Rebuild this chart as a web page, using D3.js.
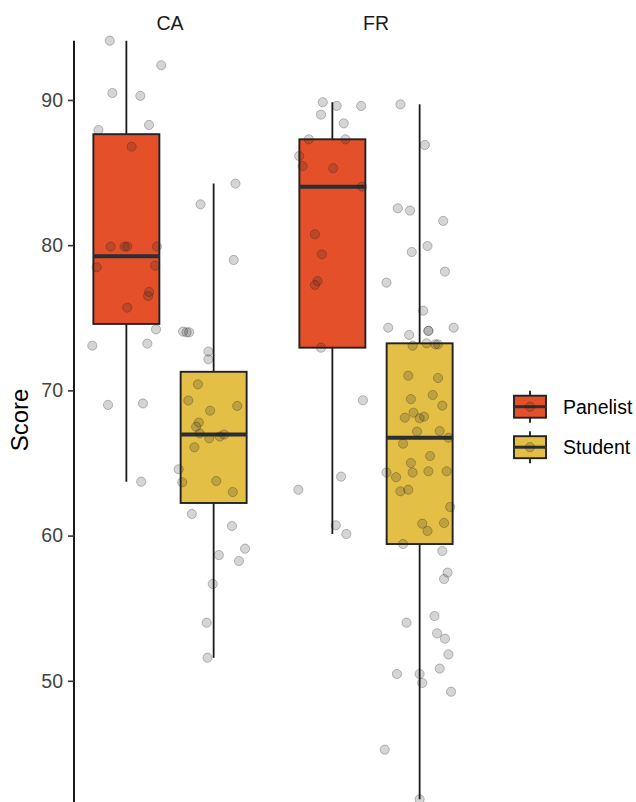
<!DOCTYPE html>
<html>
<head>
<meta charset="utf-8">
<script src="https://cdn.jsdelivr.net/npm/d3@7"></script>
<style>
  body { margin: 0; background: #fff; }
  svg { display: block; font-family: "Liberation Sans", Arial, sans-serif; }
</style>
</head>
<body>
<svg id="chart" width="636" height="802"></svg>
<script>
// facets, groups and tick labels
var facets = ["CA", "FR"];
var groups = ["Panelist", "Student"];
var yTicks = [50, 60, 70, 80, 90];
var groupColors = ["#E4502A", "#E3BF45"];

// each point: [score, jitter offset in category units]
var caPanelist = [
    [94.08, -0.19], [92.39, 0.40], [90.48, -0.16], [90.28, 0.16], [88.28, 0.26],
    [87.93, -0.32], [86.78, 0.06], [79.9, -0.18], [79.9, -0.02], [79.9, 0.01],
    [79.9, 0.35], [78.48, -0.34], [78.59, 0.33], [76.78, 0.26], [76.5, 0.25],
    [75.7, 0.01], [74.2, 0.34], [73.08, -0.39], [73.22, 0.24], [69.0, -0.21],
    [69.1, 0.19], [63.71, 0.17]
];
var caStudent = [
    [84.24, 0.25], [82.81, -0.15], [78.98, 0.23], [74.05, -0.35], [74.0, -0.31],
    [74.0, -0.28], [72.67, -0.06], [72.14, -0.06], [70.42, -0.18], [69.3, -0.29],
    [68.93, 0.27], [68.6, -0.04], [67.78, -0.17], [67.5, -0.20], [67.04, -0.16],
    [66.7, -0.05], [66.82, 0.07], [66.96, 0.12], [66.08, -0.22], [64.57, -0.40],
    [63.67, -0.36], [63.76, 0.03], [63.0, 0.22], [61.49, -0.25], [60.66, 0.21],
    [59.1, 0.36], [58.66, 0.06], [58.25, 0.29], [56.67, -0.01], [54.0, -0.08],
    [51.59, -0.07]
];
var frPanelist = [
    [89.84, -0.11], [89.59, 0.05], [89.59, 0.33], [88.99, -0.13], [88.39, 0.13],
    [87.29, -0.27], [87.29, 0.15], [86.14, -0.38], [85.45, -0.34], [85.30, 0.01],
    [84.03, 0.34], [80.75, -0.20], [79.37, -0.12], [77.53, -0.17], [77.26, -0.20],
    [72.94, -0.13], [69.32, 0.35], [64.06, 0.10], [63.16, -0.39], [60.71, 0.04],
    [60.11, 0.16]
];
var frStudent = [
    [89.70, -0.22], [86.9, 0.06], [82.54, -0.25], [82.38, -0.11], [81.67, 0.27],
    [79.94, 0.09], [79.53, -0.09], [78.18, 0.29], [77.42, -0.38], [75.49, 0.04],
    [74.32, -0.36], [73.82, -0.12], [74.1, 0.10], [74.1, 0.10], [74.32, 0.39],
    [73.08, -0.08], [73.24, 0.08], [73.17, 0.18], [73.17, 0.21], [71.01, -0.13],
    [70.85, 0.21], [69.4, -0.10], [69.68, 0.15], [68.95, 0.26], [68.46, -0.07],
    [68.12, -0.17], [68.08, 0.00], [68.19, 0.05], [67.16, -0.03], [67.2, 0.23],
    [66.74, 0.33], [66.33, -0.19], [65.48, 0.12], [65.0, -0.10], [64.34, -0.38],
    [64.34, -0.08], [64.43, 0.10], [64.43, 0.31], [64.02, -0.27], [63.05, -0.22],
    [63.16, -0.13], [61.97, 0.35], [60.82, 0.03], [60.87, 0.28], [60.32, 0.09],
    [59.42, -0.19], [58.94, 0.26], [57.45, 0.32], [57.01, 0.28], [54.46, 0.17],
    [54.0, -0.15], [53.27, 0.20], [52.9, 0.29], [51.82, 0.33], [50.47, -0.26],
    [50.47, 0.00], [49.85, 0.03], [50.84, 0.23], [49.25, 0.36], [45.26, -0.40],
    [41.84, 0.00]
];

var series = [
    { facet: "CA", group: "Panelist", pts: caPanelist },
    { facet: "CA", group: "Student", pts: caStudent },
    { facet: "FR", group: "Panelist", pts: frPanelist },
    { facet: "FR", group: "Student", pts: frStudent }
];

var svg = d3.select("#chart");
var panelTop = 40.7, panelBottom = 799.3;
var panelX = { CA: [74, 266], FR: [280, 472] };

var allScores = [];
series.forEach(s => s.pts.forEach(p => allScores.push(p[0])));
var y = d3.scaleLinear().domain(d3.extent(allScores)).range([panelBottom, panelTop]);

var xScales = {};
facets.forEach(f => {
    xScales[f] = d3.scalePoint().domain(groups).range(panelX[f]).padding(0.6);
});
var color = d3.scaleOrdinal().domain(groups).range(groupColors);

// box stats like ggplot (type 7 quantiles, 1.5 IQR whiskers)
function boxStats(pts) {
    var v = pts.map(p => p[0]).sort(d3.ascending);
    var q1 = d3.quantile(v, 0.25), med = d3.quantile(v, 0.5), q3 = d3.quantile(v, 0.75);
    var iqr = q3 - q1;
    var lo = d3.min(v.filter(d => d >= q1 - 1.5 * iqr));
    var hi = d3.max(v.filter(d => d <= q3 + 1.5 * iqr));
    return { q1, med, q3, lo, hi };
}

// y axis
var yAxis = svg.append("g")
    .attr("transform", "translate(74,0)")
    .call(d3.axisLeft(y).tickValues(yTicks).tickSize(6).tickPadding(5).tickFormat(d3.format("d")));
yAxis.select(".domain").attr("stroke", "#000").attr("stroke-width", 1.8)
    .attr("d", `M0,${panelTop}V${panelBottom + 3}`);
yAxis.selectAll(".tick line").attr("stroke", "#333").attr("stroke-width", 1.6);
yAxis.selectAll(".tick text").attr("fill", "#444").attr("font-size", 19.5)
    .attr("font-family", "Liberation Sans, Arial, sans-serif");

svg.append("text")
    .attr("transform", `translate(28,${(panelTop + panelBottom) / 2}) rotate(-90)`)
    .attr("text-anchor", "middle")
    .attr("font-size", 24)
    .attr("fill", "#000")
    .text("Score");

// facet strip labels
svg.selectAll(".strip").data(facets).join("text")
    .attr("class", "strip")
    .attr("x", f => (panelX[f][0] + panelX[f][1]) / 2)
    .attr("y", 29.5)
    .attr("text-anchor", "middle")
    .attr("font-size", 19.5)
    .attr("fill", "#1a1a1a")
    .text(f => f);

var boxW = 66;
var gBox = svg.append("g");
series.forEach(s => {
    var st = boxStats(s.pts);
    var cx = xScales[s.facet](s.group);
    var g = gBox.append("g");
    g.append("line")
        .attr("x1", cx).attr("x2", cx)
        .attr("y1", y(st.hi)).attr("y2", y(st.lo))
        .attr("stroke", "#1a1a1a").attr("stroke-width", 1.8);
    g.append("rect")
        .attr("x", cx - boxW / 2).attr("width", boxW)
        .attr("y", y(st.q3)).attr("height", y(st.q1) - y(st.q3))
        .attr("fill", color(s.group))
        .attr("stroke", "#222").attr("stroke-width", 1.9);
    g.append("line")
        .attr("x1", cx - boxW / 2).attr("x2", cx + boxW / 2)
        .attr("y1", y(st.med)).attr("y2", y(st.med))
        .attr("stroke", "#2b2f33").attr("stroke-width", 4);
});

// jittered points
var gPts = svg.append("g");
series.forEach(s => {
    var xs = xScales[s.facet];
    var step = xs.step();
    gPts.selectAll(null).data(s.pts).join("circle")
        .attr("cx", d => xs(s.group) + d[1] * step)
        .attr("cy", d => y(d[0]))
        .attr("r", 4.6)
        .attr("fill", "#222").attr("fill-opacity", 0.19)
        .attr("stroke", "#222").attr("stroke-opacity", 0.28).attr("stroke-width", 1);
});

// legend
var legend = svg.append("g");
groups.forEach((gname, i) => {
    var cy = 406.7 + i * 40.5, cx = 530;
    var k = legend.append("g");
    k.append("line").attr("x1", cx).attr("x2", cx).attr("y1", cy - 16).attr("y2", cy + 16)
        .attr("stroke", "#1a1a1a").attr("stroke-width", 1.8);
    k.append("rect").attr("x", cx - 16).attr("y", cy - 11).attr("width", 32).attr("height", 22)
        .attr("fill", color(gname)).attr("stroke", "#222").attr("stroke-width", 1.9);
    k.append("line").attr("x1", cx - 16).attr("x2", cx + 16).attr("y1", cy).attr("y2", cy)
        .attr("stroke", "#2b2f33").attr("stroke-width", 3);
    k.append("circle").attr("cx", cx).attr("cy", cy).attr("r", 4.6)
        .attr("fill", "#222").attr("fill-opacity", 0.19)
        .attr("stroke", "#222").attr("stroke-opacity", 0.28);
    k.append("text").attr("x", 563).attr("y", cy + 7)
        .attr("font-size", 19.5).attr("fill", "#000").text(gname);
});
</script>
</body>
</html>
